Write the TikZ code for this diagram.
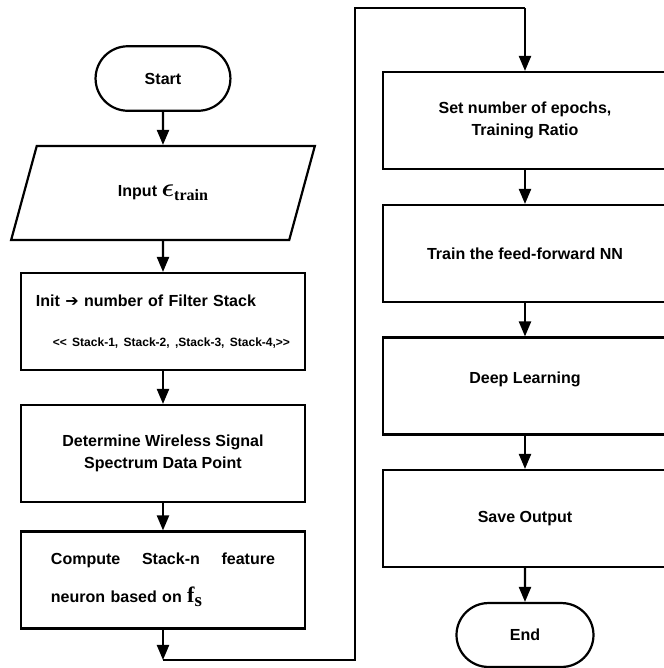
\documentclass[tikz,border=0pt]{standalone}
\usepackage{amsmath}
\usepackage{fontspec}
\setmainfont{Liberation Serif}
\setsansfont{Liberation Sans}
\newfontfamily\symfont{DejaVu Sans}
\usetikzlibrary{arrows.meta,positioning,shapes.geometric,shapes.misc}

\begin{document}
\begin{tikzpicture}[
    every node/.style={font=\sffamily\bfseries\fontsize{15.2pt}{20.9pt}\selectfont},
    terminal/.style={rounded rectangle, draw, line width=2.1pt,
                     minimum width=4.73cm, minimum height=2.15cm},
    inbox/.style={trapezium, draw, line width=2.1pt, trapezium stretches=true,
                  trapezium left angle=66.4, trapezium right angle=113.6,
                  minimum width=10.13cm, minimum height=3.13cm},
    procbox/.style={rectangle, draw, line width=2.1pt, align=center,
                    minimum width=9.47cm, minimum height=3.23cm},
    flow/.style={line width=2.1pt, -{Triangle[length=0.5cm, width=0.4cm]}},
    loop/.style={line width=2.1pt}
  ]
    \useasboundingbox (0,0) rectangle (22.133,-22.267);

    % left column
    \node[terminal] (start) at (5.433,-2.617) {Start};
    \node[inbox] (input) at (5.433,-6.433)
      {Input {\fontsize{26pt}{26pt}\selectfont$\boldsymbol{\epsilon}$}\raisebox{-3.5pt}{\rmfamily\bfseries train}};
    \node[procbox, text width=8.47cm, align=left] (init) at (5.433,-10.717)
      {Init {\symfont ➔} number of Filter Stack\\[17pt]
       \hspace*{\fill}{\fontsize{11.4pt}{14pt}\selectfont <{}< Stack-1, Stack-2, ,Stack-3, Stack-4,>{}>}\hspace*{\fill}};
    \node[procbox] (det) at (5.433,-15.117) {Determine Wireless Signal\\Spectrum Data Point};
    \node[procbox, text width=7.47cm, align=left] (comp) at (5.433,-19.333)
      {Compute\hfill Stack-n\hfill feature\\[15pt]
       neuron based on {\rmfamily\bfseries\fontsize{21pt}{21pt}\selectfont f\raisebox{-4pt}{\fontsize{18pt}{18pt}\selectfont s}}};

    % right column
    \node[procbox] (setep) at (17.5,-4.017) {Set number of epochs,\\Training Ratio};
    \node[procbox] (train) at (17.5,-8.45) {Train the feed-forward NN};
    \node[procbox, text depth=16pt] (deep) at (17.5,-12.867) {Deep Learning};
    \node[procbox] (save) at (17.5,-17.283) {Save Output};
    \node[terminal, minimum width=4.8cm, minimum height=2.13cm] (end) at (17.5,-21.167) {End};

    % loop round to the right column
    \coordinate (c1) at (5.433,-22.0);
    \coordinate (c2) at (11.833,-22.0);
    \coordinate (c3) at (11.833,-0.267);
    \coordinate (c4) at (17.5,-0.267);

    % Arrows
    \draw[flow] (start) -- (input);
    \draw[flow] (input) -- (init);
    \draw[flow] (init) -- (det);
    \draw[flow] (det) -- (comp);
    \draw[flow] (comp) -- (c1);
    \draw[loop] (c1) -- (c2) -- (c3) -- (c4);
    \draw[flow] (c4) -- (setep);
    \draw[flow] (setep) -- (train);
    \draw[flow] (train) -- (deep);
    \draw[flow] (deep) -- (save);
    \draw[flow] (save) -- (end);
  \end{tikzpicture}
\end{document}
